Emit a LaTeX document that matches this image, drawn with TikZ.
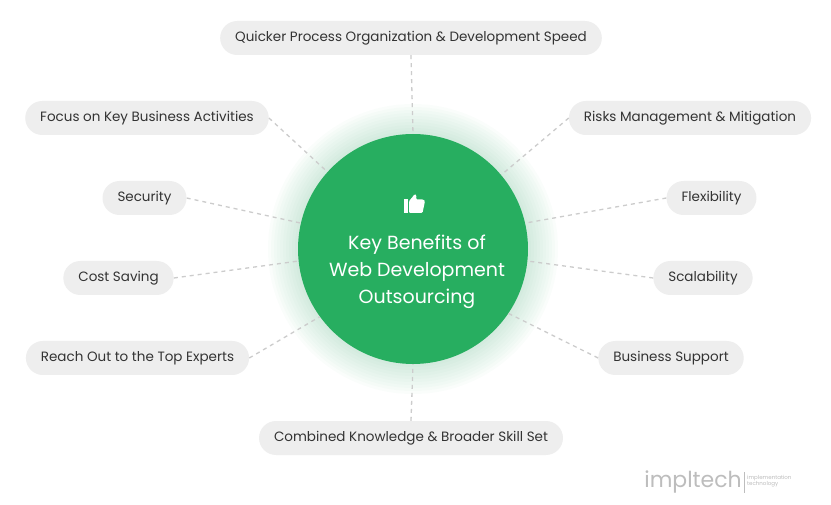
\documentclass[tikz,border=0pt]{standalone}
\usepackage{fontspec}
\setmainfont{Poppins}
\definecolor{kgreen}{HTML}{27AE60}
\definecolor{pillbg}{HTML}{EEEEEE}
\definecolor{txt}{HTML}{333333}
\definecolor{dash}{HTML}{CCCCCC}
\definecolor{logo}{HTML}{BDBDBD}
\begin{document}
\begin{tikzpicture}[x=1pt,y=-1pt,
  pill/.style={fill=pillbg,rounded corners=17pt,minimum height=34pt,inner xsep=15pt,font=\fontsize{13.5}{16}\selectfont,text=txt},
  conn/.style={draw=dash,line width=1.3pt,dash pattern=on 4pt off 4pt}]
\useasboundingbox (0,0) rectangle (831,505);
\fill[white] (0,0) rectangle (831,505);
% glow
\foreach \r in {145,142,...,118}{
  \fill[kgreen,opacity=0.018] (413,249) circle (\r);
}
\node[circle,fill=kgreen,minimum size=230pt,inner sep=0pt] (c) at (413,249) {};
\node[text=white,align=center,font=\fontsize{19}{27}\selectfont] (t) at (417,272) {Key Benefits of\\Web Development\\Outsourcing};
% thumbs up icon
\fill[white] (403.5,199) rectangle (407.5,213);
\fill[white,rounded corners=1.2pt] (409,213) -- (409,201) -- (413,196.5) -- (414.5,194) -- (416.5,195) -- (416,199.5) -- (423.5,199.5) -- (425,201) -- (422.5,213) -- cycle;
% pills
\node[pill] (p1) at (411,38) {Quicker Process Organization \& Development Speed};
\node[pill] (p2) at (147,118) {Focus on Key Business Activities};
\node[pill] (p3) at (690,118) {Risks Management \& Mitigation};
\node[pill] (p4) at (144.5,198) {Security};
\node[pill] (p5) at (711.5,198) {Flexibility};
\node[pill] (p6) at (118.5,278) {Cost Saving};
\node[pill] (p7) at (703,278) {Scalability};
\node[pill] (p8) at (137.5,358) {Reach Out to the Top Experts};
\node[pill] (p9) at (671,358) {Business Support};
\node[pill] (p10) at (411,438) {Combined Knowledge \& Broader Skill Set};
% connectors
\path[conn] (p1.south) -- (c.90);
\path[conn] (p2.east) -- (c.138);
\path[conn] (p4.east) -- (c.167);
\path[conn] (p6.east) -- (c.186);
\path[conn] (p8.east) -- (c.216);
\path[conn] (p3.west) -- (c.40);
\path[conn] (p5.west) -- (c.13);
\path[conn] (p7.west) -- (c.-6);
\path[conn] (p9.west) -- (c.-34);
\path[conn] (p10.north) -- (c.270);
% logo
\node[text=logo,font=\fontsize{22}{22}\selectfont,anchor=east,inner sep=0pt] (lg) at (742,482) {impltech};
\draw[logo,line width=0.6pt] (744.5,472) -- (744.5,493);
\node[text=logo,font=\fontsize{5.5}{6.5}\selectfont,anchor=west,align=left,inner sep=0pt] (lg2) at (747,481) {implementation\\technology};
\end{tikzpicture}
\end{document}
